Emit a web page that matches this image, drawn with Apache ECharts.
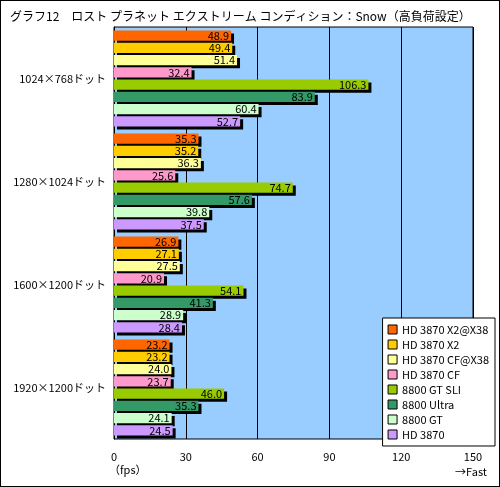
<!DOCTYPE html><html><head><meta charset="utf-8"><script src="https://cdn.jsdelivr.net/npm/echarts@6/dist/echarts.min.js"></script>
<style>body{margin:0}#c{width:500px;height:487px;box-sizing:border-box;border:1px solid #000;background:#fff}</style></head><body><div id="c"></div><script>
const categories=['1024×768ドット','1280×1024ドット','1600×1200ドット','1920×1200ドット'];
const names=['HD 3870 X2@X38','HD 3870 X2','HD 3870 CF@X38','HD 3870 CF','8800 GT SLI','8800 Ultra','8800 GT','HD 3870'];
const colors=['#ff6600','#ffcc00','#ffff99','#ff99cc','#99cc00','#339966','#ccffcc','#cc99ff'];
const values=[[48.9,35.3,26.9,23.2],[49.4,35.2,27.1,23.2],[51.4,36.3,27.5,24.0],[32.4,25.6,20.9,23.7],[106.3,74.7,54.1,46.0],[83.9,57.6,41.3,35.3],[60.4,39.8,28.9,24.1],[52.7,37.5,28.4,24.5]];
const xTicks=[0,30,60,90,120,150];
const F='"Noto Sans CJK JP",sans-serif';
const c=echarts.init(document.getElementById('c'));
c.setOption({animation:false,
title:{text:'グラフ12　ロスト プラネット エクストリーム コンディション：Snow（高負荷設定）',left:4,top:4,textStyle:{fontSize:12,fontWeight:'normal',fontFamily:F,color:'#000'}},
grid:{left:113,right:26,top:26,bottom:47,backgroundColor:'#99ccff',show:true,borderColor:'#000',borderWidth:1},
legend:{orient:'vertical',right:4,top:317,itemWidth:9,itemHeight:9,itemGap:4,backgroundColor:'#fff',borderColor:'#000',borderWidth:1,padding:[6,6,6,5],textStyle:{fontSize:11,fontFamily:F,color:'#000'},icon:'rect',data:names.map(n=>({name:n,itemStyle:{borderColor:'#000',borderWidth:1}}))},
xAxis:{type:'value',min:0,max:150,interval:30,axisLine:{show:false},axisTick:{show:false},splitLine:{lineStyle:{color:'#000'}},axisLabel:{fontSize:11,fontFamily:F,color:'#000',margin:12}},
yAxis:{type:'category',inverse:true,data:categories,axisTick:{length:4,lineStyle:{color:'#000'}},axisLine:{lineStyle:{color:'#000'}},axisLabel:{fontSize:11,fontFamily:F,color:'#000'}},
graphic:[{type:'text',left:108,top:463,style:{text:'（fps）',fontSize:11,fontFamily:F,fill:'#000'}},{type:'text',right:12,top:465,style:{text:'→Fast',fontSize:11,fontFamily:F,fill:'#000'}}],
series:names.map((n,i)=>({name:n,type:'bar',data:values[i],barCategoryGap:'7%',barGap:'22%',itemStyle:{color:colors[i],shadowColor:'#000',shadowOffsetX:3,shadowOffsetY:3,shadowBlur:0},label:{show:true,position:'insideRight',distance:2,fontSize:11,fontFamily:F,color:'#000',formatter:p=>p.value.toFixed(1)}}))
});
</script></body></html>
